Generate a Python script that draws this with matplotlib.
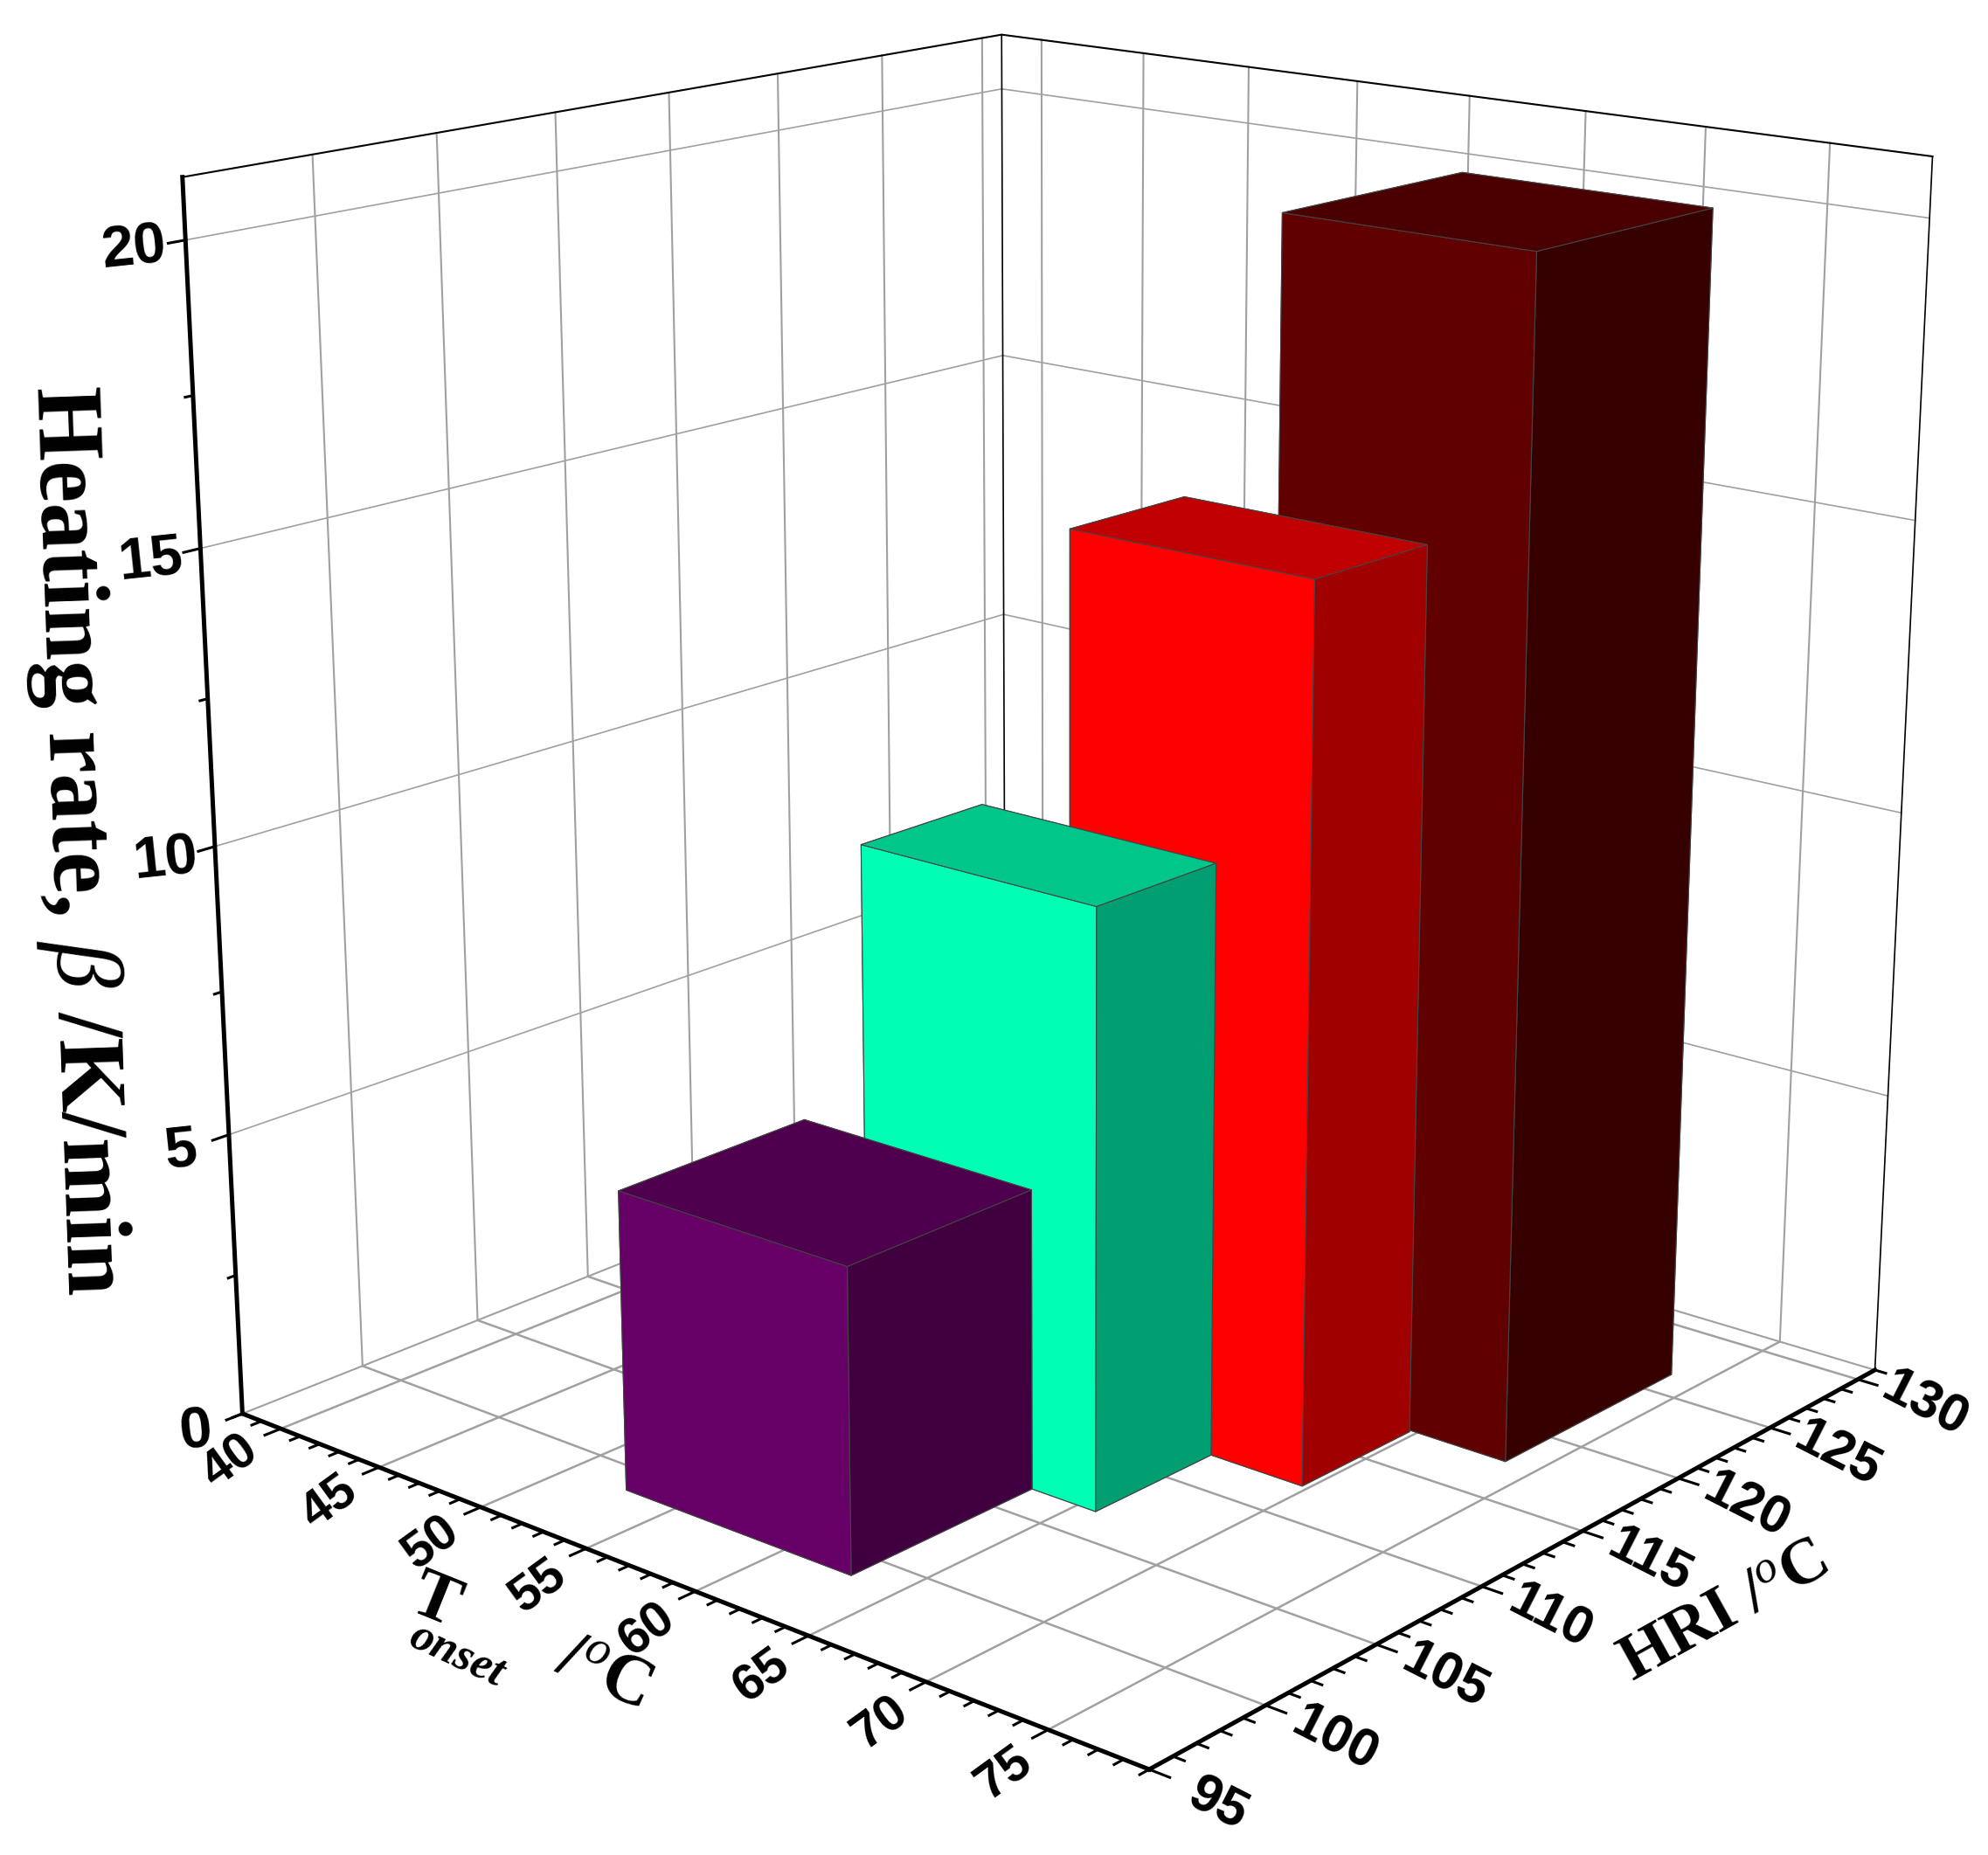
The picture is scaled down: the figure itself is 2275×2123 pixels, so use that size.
import numpy as np
import matplotlib
matplotlib.use("Agg")
import matplotlib.pyplot as plt
from mpl_toolkits.mplot3d import proj3d

# bars
t_onset = [57.85, 60.65, 64.6, 68.6]
t_width = [10.3, 10.3, 10.3, 10.3]
hri_left = [98.7, 106.7, 112.15, 117.6]
hri_right = [106.7, 112.15, 117.5, 126.5]
beta = [5.2, 10.25, 15.25, 20.2]

front_cols = ["#660066", "#00ffb4", "#ff0000", "#600000"]
side_cols = ["#400040", "#009e70", "#a00000", "#360000"]
top_cols = ["#4e004e", "#00c68a", "#c00000", "#4a0000"]

xticks = [40, 45, 50, 55, 60, 65, 70, 75]
yticks = [95, 100, 105, 110, 115, 120, 125, 130]
zticks = [0, 5, 10, 15, 20]
zminor = [2.5, 7.5, 12.5, 17.5]

x0, x1 = 38, 79
y0, y1 = 95, 131
z0, z1 = 0, 21

plt.rcParams["mathtext.fontset"] = "custom"
plt.rcParams["mathtext.rm"] = "Liberation Serif"
plt.rcParams["mathtext.it"] = "Liberation Serif:italic"
plt.rcParams["mathtext.bf"] = "Liberation Serif:bold"

fig = plt.figure(figsize=(22.75, 21.23), dpi=100)
ax = fig.add_axes([0.024, 0.055, 1, 1], projection="3d", computed_zorder=False)
ax.set_xlim(x0, x1)
ax.set_ylim(y0, y1)
ax.set_zlim(z0, z1)
ax.set_box_aspect((1.139, 1.118, 1.205), zoom=1.11)
ax.view_init(elev=16.8, azim=-49.4)
ax.set_proj_type("persp", focal_length=0.53)
ax.set_axis_off()


def line3(xs, ys, zs, **kw):
    ax.plot(xs, ys, zs, clip_on=False, **kw)


def label3(x, y, z, s, **kw):
    # 3D anchor, plain 2D text
    px, py, _ = proj3d.proj_transform(x, y, z, ax.get_proj())
    ax.text2D(px, py, s, transform=ax.transData, **kw)


grid = "#a0a0a0"
for x in xticks:
    line3([x, x], [y0, y1], [0, 0], color=grid, lw=1.8, zorder=1)
    line3([x, x], [y1, y1], [z0, z1], color=grid, lw=1.5, zorder=1)
for y in yticks[1:]:
    line3([x0, x1], [y, y], [0, 0], color=grid, lw=1.8, zorder=1)
    line3([x0, x0], [y, y], [z0, z1], color=grid, lw=1.5, zorder=1)
for z in zticks[1:]:
    line3([x0, x0], [y0, y1], [z, z], color=grid, lw=1.2, zorder=1)
    line3([x0, x1], [y1, y1], [z, z], color=grid, lw=1.2, zorder=1)
line3([x0, x0], [y0, y1], [z0, z0], color=grid, lw=1.5, zorder=1)
line3([x0, x1], [y1, y1], [z0, z0], color=grid, lw=1.5, zorder=1)

# thin box outline
line3([x0, x0, x1], [y0, y1, y1], [z1, z1, z1], color="k", lw=1.5, zorder=2)
line3([x0, x0], [y1, y1], [z0, z1], color="k", lw=1.2, zorder=2)
line3([x1, x1], [y1, y1], [z0, z1], color="k", lw=1.2, zorder=2)

# back bars first
for i in [3, 2, 1, 0]:
    cols = [top_cols[i], top_cols[i], front_cols[i], front_cols[i], side_cols[i], side_cols[i]]
    ax.bar3d(t_onset[i] - t_width[i] / 2, hri_left[i], 0, t_width[i], hri_right[i] - hri_left[i], beta[i],
             color=cols, shade=False, edgecolor="#444444", linewidth=0.8, zorder=5 + (3 - i))

# axes lines
line3([x0, x1], [y0, y0], [0, 0], color="k", lw=3.6, zorder=10)
line3([x1, x1], [y0, y1], [0, 0], color="k", lw=3.6, zorder=10)
line3([x0, x0], [y0, y0], [z0, z1], color="k", lw=3.6, zorder=10)

for x in range(x0, x1 + 1):
    ln = 0.65 if x % 5 == 0 else 0.4
    line3([x, x], [y0, y0 - ln], [0, 0], color="k", lw=2.2, zorder=10)
for y in range(y0, y1 + 1):
    ln = 0.8 if y % 5 == 0 else 0.45
    line3([x1, x1 + ln], [y, y], [0, 0], color="k", lw=2.2, zorder=10)
for z in zticks:
    line3([x0, x0], [y0, y0 - 0.65], [z, z], color="k", lw=2.2, zorder=10)
for z in zminor:
    line3([x0, x0], [y0, y0 - 0.3], [z, z], color="k", lw=2.2, zorder=10)

lab = dict(family="Liberation Sans", fontweight="bold", color="k", ha="center", va="center")
for x in xticks:
    label3(x + 0.85, y0 - 2.7, 0, str(x), fontsize=42, rotation=36, zorder=11, **lab)
for y in yticks:
    label3(x1 + 3.0, y - 0.4, 0, str(y), fontsize=44, rotation=-27, zorder=11, **lab)
for z in zticks:
    label3(x0, y0 - 1.9, z, str(z), fontsize=48, rotation=6, zorder=11, **lab)

serif = dict(family="Liberation Serif", fontweight="bold", ha="center", va="center")
fig.text(0.038, 0.547, r"Heating rate, $\mathit{\beta}$ /K/min", fontsize=78, rotation=-88, **serif)
fig.text(343 / 1568, 1 - 1264 / 1463, "T", fontsize=58, rotation=-22, **serif)
fig.text(360 / 1568, 1 - 1305 / 1463, "onset", fontsize=38, rotation=-25, fontstyle="italic", **serif)
fig.text(476 / 1568, 1 - 1320 / 1463, r"/$^{o}$C", fontsize=58, rotation=-24, **serif)
fig.text(0.867, 0.131, r"HRI /$^{o}$C", fontsize=54, rotation=29, **serif)

fig.savefig("out.png", dpi=100, facecolor="white")
